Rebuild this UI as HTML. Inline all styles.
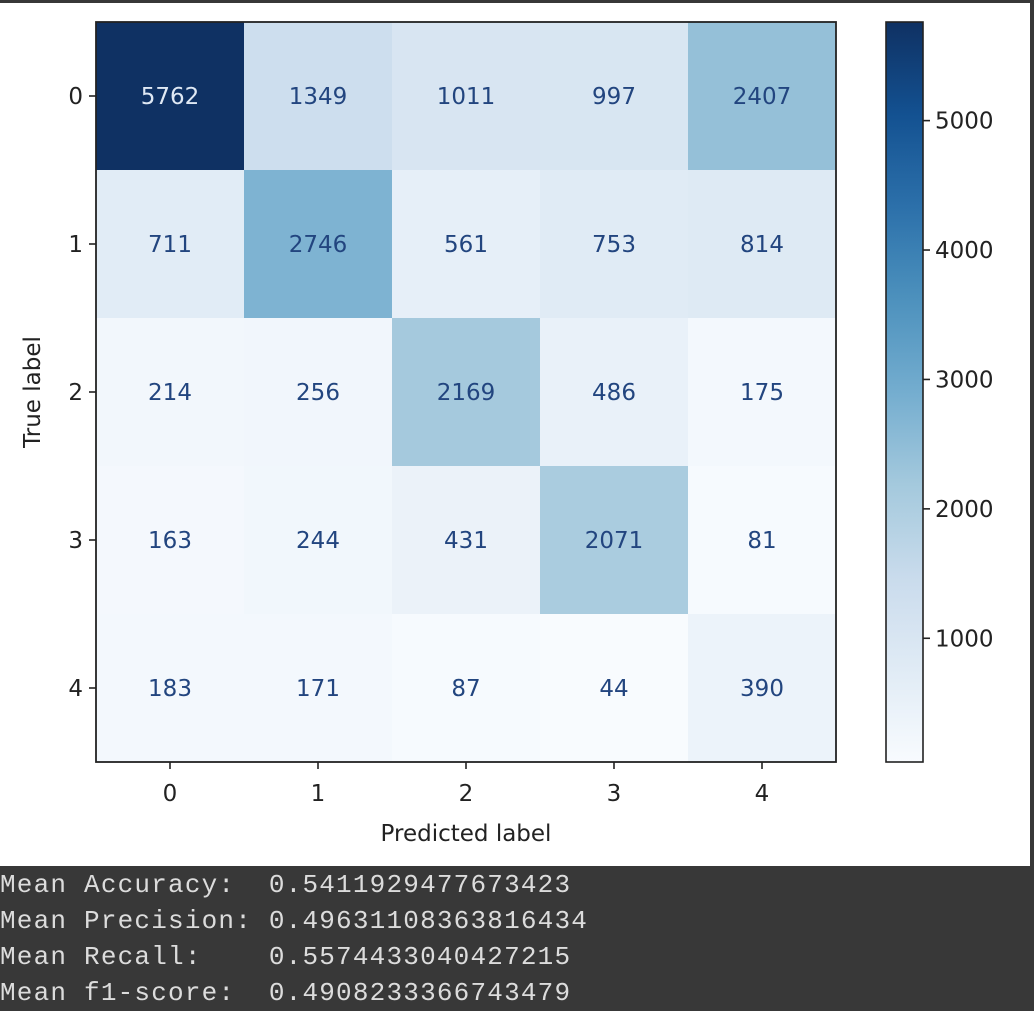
<!DOCTYPE html>
<html><head><meta charset="utf-8"><style>
html,body{margin:0;padding:0;width:1034px;height:1006px;background:#383838;overflow:hidden}
#white{position:absolute;left:0;top:3px;width:1030px;height:863px;background:#fff}
#chart{position:absolute;left:0;top:0}
#out{position:absolute;left:0;top:867px;font-family:"Liberation Mono",monospace;font-size:26px;letter-spacing:1.2px;color:#dcdcdc;line-height:36px;white-space:pre}
</style></head><body>
<div id="white"></div>
<svg id="chart" width="1034" height="866" font-family="DejaVu Sans, Liberation Sans, sans-serif"></svg>
<div id="out"><div>Mean Accuracy:  0.5411929477673423</div><div>Mean Precision: 0.49631108363816434</div><div>Mean Recall:    0.5574433040427215</div><div>Mean f1-score:  0.4908233366743479</div></div>
<script>
const labels = ["0","1","2","3","4"];
const row0 = [5762,1349,1011,997,2407];
const row1 = [711,2746,561,753,814];
const row2 = [214,256,2169,486,175];
const row3 = [163,244,431,2071,81];
const row4 = [183,171,87,44,390];
const cbTicks = [1000,2000,3000,4000,5000];
const matrix = [row0,row1,row2,row3,row4];

const NS="http://www.w3.org/2000/svg";
const svg=document.getElementById('chart');
function el(t,a,p){const e=document.createElementNS(NS,t);for(const k in a)e.setAttribute(k,a[k]);(p||svg).appendChild(e);return e;}
const all=[].concat(...matrix);
const vmin=Math.min(...all), vmax=Math.max(...all);
const L=96,T=22,S=740,n=labels.length,cw=S/n;
const stops=["#f7fbff","#deebf7","#c6dbef","#9ecae1","#6baed6","#4292c6","#2171b5","#08519c","#08306b"];
function hx(h){return[1,3,5].map(i=>parseInt(h.substr(i,2),16));}
function blues(t){t=Math.max(0,Math.min(1,t));const f=t*8,i=Math.min(7,Math.floor(f)),r=f-i;const a=hx(stops[i]),b=hx(stops[i+1]);let c=a.map((v,k)=>v+(b[k]-v)*r);const m=(c[0]+c[1]+c[2])/3;c=c.map(v=>Math.round(v*0.85+m*0.15));return 'rgb('+c.join(',')+')';}
const norm=v=>(v-vmin)/(vmax-vmin);
const xc=i=>L+cw*(i+0.5), yc=i=>T+cw*(i+0.5);
const thr=(vmax+vmin)/2;
matrix.forEach((row,r)=>row.forEach((v,c)=>{
  const rc=el('rect',{x:L+c*cw,y:T+r*cw,width:cw+0.5,height:cw+0.5,fill:blues(norm(v))});
  
  
  const tx=el('text',{x:xc(c),y:yc(r)+8,'text-anchor':'middle','font-size':'23',fill:v>thr?'#dfe8f4':'#22457f'});
  tx.textContent=v;
  
  
}));
const fr=el('rect',{x:L,y:T,width:S,height:S,fill:'none',stroke:'#222','stroke-width':'1.8'});


labels.forEach((lb,i)=>{
  el('line',{x1:xc(i),x2:xc(i),y1:T+S,y2:T+S+7,stroke:'#222','stroke-width':'1.6'});
  const a=el('text',{x:xc(i),y:T+S+39,'text-anchor':'middle','font-size':'23',fill:'#222'});a.textContent=lb;
  
  
  el('line',{x1:L-7,x2:L,y1:yc(i),y2:yc(i),stroke:'#222','stroke-width':'1.6'});
  const b=el('text',{x:L-13,y:yc(i)+8,'text-anchor':'end','font-size':'23',fill:'#222'});b.textContent=lb;
  
  
});
const xt=el('text',{x:L+S/2,y:841,'text-anchor':'middle','font-size':'23',fill:'#222'});xt.textContent='Predicted label';


const yt=el('text',{x:0,y:0,'text-anchor':'middle','font-size':'23',fill:'#222',transform:'translate(40,'+(T+S/2)+') rotate(-90)'});yt.textContent='True label';


const CX=886,CW=37;
const defs=el('defs',{});
const g=el('linearGradient',{id:'cbg',x1:'0',y1:'1',x2:'0',y2:'0'},defs);
for(let k=0;k<=16;k++)el('stop',{offset:k/16,'stop-color':blues(k/16)},g);
const cb=el('rect',{x:CX,y:T,width:CW,height:S,fill:'url(#cbg)',stroke:'#222','stroke-width':'1.6'});


const cy=v=>T+S-norm(v)*S;
cbTicks.forEach(v=>{
  el('line',{x1:CX+CW,x2:CX+CW+7,y1:cy(v),y2:cy(v),stroke:'#222','stroke-width':'1.6'});
  const t=el('text',{x:CX+CW+12,y:cy(v)+8,'font-size':'23',fill:'#222'});t.textContent=v;
  
  
});
</script>
</body></html>
